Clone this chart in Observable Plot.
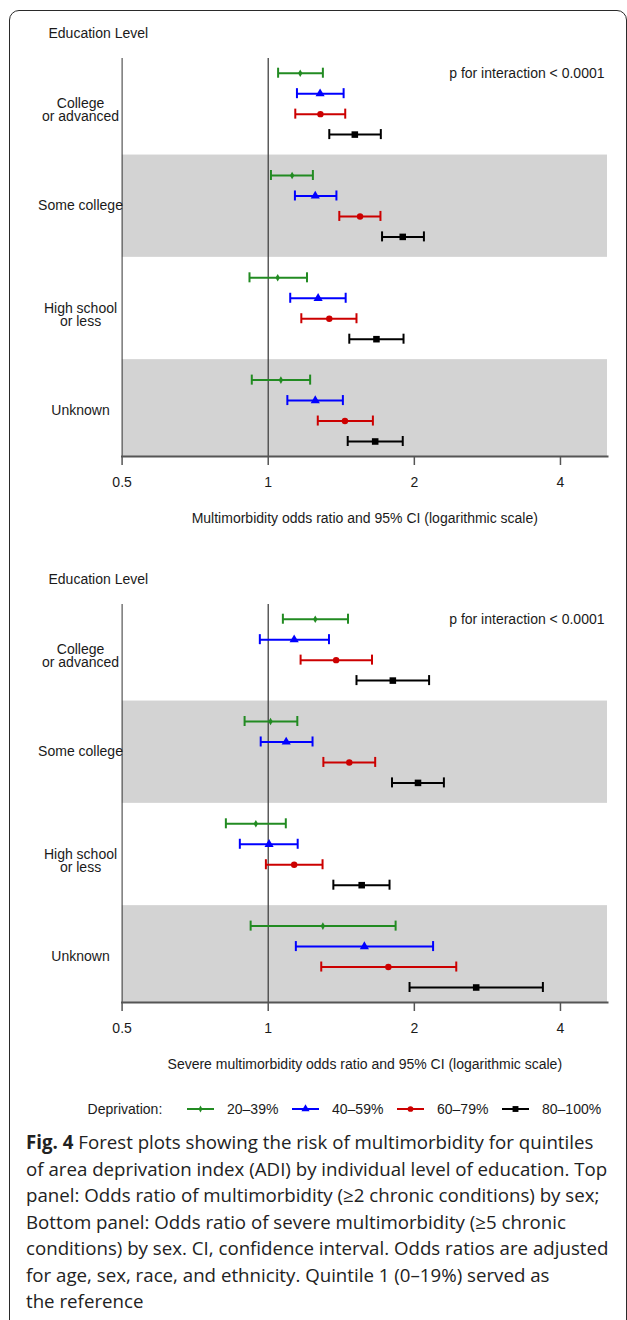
<!DOCTYPE html>
<html>
<head>
<meta charset="utf-8">
<script src="https://cdn.jsdelivr.net/npm/d3@7"></script>
<script src="https://cdn.jsdelivr.net/npm/@observablehq/plot@0.6"></script>
<style>
  html, body { margin: 0; padding: 0; background: #fff; }
  body { width: 627px; height: 1320px; position: relative; overflow: hidden; }
  #border { position: absolute; left: 8.5px; top: 10px; width: 618px; height: 1330px; box-sizing: border-box;
            border: 1.5px solid #2a2a2a; border-radius: 10px; pointer-events: none; z-index: 5; }
  .panel { position: absolute; left: 0; }
  #legend { position: absolute; left: 0; top: 1094px; }
  #caption { position: absolute; left: 26px; top: 1129px; font-family: "Open Sans", sans-serif; font-size: 18.7px;
             line-height: 26.5px; color: #222; white-space: nowrap; }
</style>
</head>
<body>
<div id="border"></div>
<div id="top" class="panel" style="top:0px"></div>
<div id="bottom" class="panel" style="top:546px"></div>
<div id="legend"></div>
<div id="caption"></div>
<script>
// ---------- data ----------
const groupLabels = ["College\nor advanced", "Some college", "High school\nor less", "Unknown"];
const seriesLabels = ["20–39%", "40–59%", "60–79%", "80–100%"];
const seriesColors = ["#228B22", "#0000FF", "#CC0000", "#000000"];
const seriesSymbols = ["diamond", "triangle", "circle", "square"];
const xTicks = [0.5, 1, 2, 4];
const yHeader = "Education Level";
const pNote = "p for interaction < 0.0001";
const topTitle = "Multimorbidity odds ratio and 95% CI (logarithmic scale)";
const bottomTitle = "Severe multimorbidity odds ratio and 95% CI (logarithmic scale)";
const legendTitle = "Deprivation:";

// rows = deprivation series, columns = education groups
const topOR = [
  [1.164, 1.120, 1.046, 1.062],
  [1.279, 1.250, 1.267, 1.250],
  [1.281, 1.546, 1.336, 1.439],
  [1.508, 1.893, 1.671, 1.661]];
const topLo = [
  [1.048, 1.013, 0.915, 0.925],
  [1.146, 1.135, 1.110, 1.095],
  [1.137, 1.401, 1.170, 1.265],
  [1.336, 1.716, 1.469, 1.458]];
const topHi = [
  [1.296, 1.236, 1.202, 1.220],
  [1.430, 1.382, 1.444, 1.425],
  [1.441, 1.703, 1.520, 1.643],
  [1.706, 2.093, 1.900, 1.893]];

const botOR = [
  [1.250, 1.011, 0.943, 1.296],
  [1.131, 1.089, 1.004, 1.578],
  [1.380, 1.469, 1.131, 1.768],
  [1.806, 2.035, 1.558, 2.682]];
const botLo = [
  [1.072, 0.894, 0.818, 0.920],
  [0.961, 0.965, 0.874, 1.140],
  [1.166, 1.299, 0.989, 1.286],
  [1.520, 1.799, 1.362, 1.955]];
const botHi = [
  [1.460, 1.148, 1.087, 1.830],
  [1.334, 1.234, 1.150, 2.186],
  [1.636, 1.661, 1.294, 2.440],
  [2.145, 2.301, 1.778, 3.680]];

const captionLines = [
  "<b>Fig. 4</b> Forest plots showing the risk of multimorbidity for quintiles",
  "of area deprivation index (ADI) by individual level of education. Top",
  "panel: Odds ratio of multimorbidity (≥2 chronic conditions) by sex;",
  "Bottom panel: Odds ratio of severe multimorbidity (≥5 chronic",
  "conditions) by sex. CI, confidence interval. Odds ratios are adjusted",
  "for age, sex, race, and ethnicity. Quintile 1 (0–19%) served as",
  "the reference"];

// ---------- drawing ----------
const symbolR = [2.3, 3.4, 3.2, 3.7];
const font = "'Liberation Sans', Arial, Helvetica, sans-serif";

function panel(OR, Lo, Hi, xTitle) {
  const rows = [];
  for (let s = 0; s < seriesLabels.length; s++)
    for (let g = 0; g < groupLabels.length; g++)
      rows.push({s, g, y: g + (s - 1.5) * 0.2, or: OR[s][g], lo: Lo[s][g], hi: Hi[s][g], color: seriesColors[s]});
  const capH = 0.049;
  const marks = [
    Plot.rect([1, 3], {x1: 0.5, x2: 5, y1: d => d - 0.5, y2: d => d + 0.5, fill: "#D3D3D3", clip: true}),
    Plot.frame({anchor: "left", stroke: "#333", strokeWidth: 1}),
    Plot.ruleX([1], {stroke: "#444", strokeWidth: 1.3}),
    Plot.link(rows, {x1: "lo", x2: "hi", y1: "y", y2: "y", stroke: "color", strokeWidth: 2}),
    Plot.ruleX(rows, {x: "lo", y1: d => d.y - capH, y2: d => d.y + capH, stroke: "color", strokeWidth: 2}),
    Plot.ruleX(rows, {x: "hi", y1: d => d.y - capH, y2: d => d.y + capH, stroke: "color", strokeWidth: 2}),
    ...seriesLabels.map((_, s) => Plot.dot(rows.filter(d => d.s === s),
        {x: "or", y: "y", symbol: seriesSymbols[s], fill: seriesColors[s], r: symbolR[s], stroke: "none"})),
    Plot.frame({anchor: "bottom", stroke: "#555", strokeWidth: 2}),
    Plot.axisX({ticks: xTicks, tickFormat: d => String(d), tickSize: 9, tickPadding: 12, stroke: "#555", strokeWidth: 1.5, fill: "#1a1a1a"}),
    Plot.text(groupLabels, {text: d => d, y: (d, i) => i, frameAnchor: "left", dx: -41.6, dy: -5,
        textAnchor: "middle", lineAnchor: "top", lineHeight: 0.93, fill: "#1a1a1a"}),
    Plot.text([yHeader], {text: d => d, frameAnchor: "top-left", dx: 48 - 121.6, dy: -25,
        textAnchor: "start", lineAnchor: "middle", fill: "#1a1a1a"}),
    Plot.text([pNote], {text: d => d, frameAnchor: "top-right", dx: -3, dy: 14.7,
        textAnchor: "end", lineAnchor: "middle", fill: "#1a1a1a"}),
    Plot.text([xTitle], {text: d => d, frameAnchor: "bottom", dy: 62, lineAnchor: "middle", fill: "#1a1a1a"})
  ];
  return Plot.plot({
    width: 627, height: 546,
    marginLeft: 121.6, marginRight: 20, marginTop: 58, marginBottom: 90,
    x: {type: "log", domain: [0.5, 5], axis: null},
    y: {domain: [-0.4438, 3.4467], reverse: true, axis: null},
    color: {type: "identity"},
    style: {fontFamily: font, fontSize: "14px", background: "transparent", color: "#1a1a1a"},
    marks
  });
}

document.getElementById("top").appendChild(panel(topOR, topLo, topHi, topTitle));
document.getElementById("bottom").appendChild(panel(botOR, botLo, botHi, bottomTitle));

// legend
const lg = d3.select("#legend").append("svg").attr("width", 627).attr("height", 30)
  .style("font-family", font).style("font-size", "14px");
lg.append("text").attr("x", 87.6).attr("y", 15).attr("dy", "0.35em").attr("fill", "#1a1a1a").text(legendTitle);
const itemX = [187, 292, 397, 502];
const d3Sym = {diamond: d3.symbolDiamond, triangle: d3.symbolTriangle, circle: d3.symbolCircle, square: d3.symbolSquare};
seriesLabels.forEach((lab, s) => {
  const x0 = itemX[s];
  lg.append("line").attr("x1", x0).attr("x2", x0 + 27).attr("y1", 15).attr("y2", 15)
    .attr("stroke", seriesColors[s]).attr("stroke-width", 2);
  lg.append("path").attr("transform", `translate(${x0 + 13.5},15)`)
    .attr("d", d3.symbol(d3Sym[seriesSymbols[s]], Math.PI * symbolR[s] * symbolR[s] * 0.8)())
    .attr("fill", seriesColors[s]);
  lg.append("text").attr("x", x0 + 40).attr("y", 15).attr("dy", "0.35em").attr("fill", "#1a1a1a").text(lab);
});

document.getElementById("caption").innerHTML = captionLines.join("<br>");
</script>
</body>
</html>
